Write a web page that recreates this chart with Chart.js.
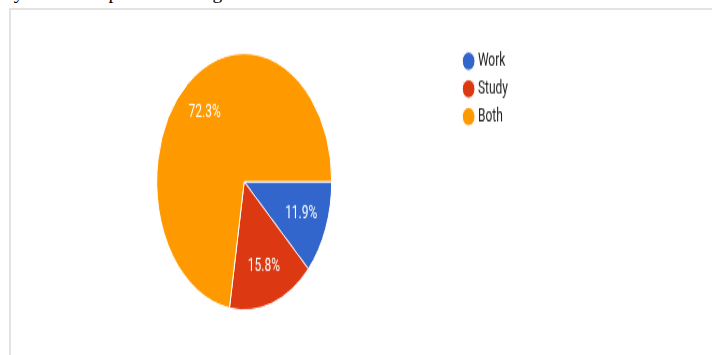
<!DOCTYPE html>
<html>
<head>
<meta charset="utf-8">
<script src="https://cdn.jsdelivr.net/npm/chart.js@4/dist/chart.umd.min.js"></script>
<style>
  html, body { margin: 0; padding: 0; background: #fff; overflow: hidden; }
  body { width: 712px; height: 355px; position: relative; }
  .doc-line {
    position: absolute; left: -22px; top: -17px; white-space: nowrap;
    font-family: "Liberation Serif", "Times New Roman", serif; font-size: 19.5px; line-height: 1; color: #000;
  }
  .frame {
    position: absolute; left: 9px; top: 8px; width: 720px; height: 360px;
    border: 2px solid #e3e3e3; box-sizing: border-box;
  }
  /* グラフ全体を縦方向に引き伸ばして描く */
  .chart-box {
    position: absolute; left: 0; top: 10px; width: 712px; height: 236px;
    transform: scaleY(1.466); transform-origin: 0 0;
  }
</style>
</head>
<body>
<div class="doc-line">Many of them replied for using</div>
<div class="frame"></div>
<div class="chart-box"><canvas id="purposeChart"></canvas></div>

<script>
// 回答データ（割合 %）
const categories = ['Work', 'Study', 'Both'];
const shares = [11.9, 15.8, 72.3];
const sliceColors = ['#3366cc', '#dc3912', '#ff9900'];

const FONT_FAMILY = 'Roboto, Arial, sans-serif';
const LEGEND_FONT = 12;
const LEGEND_BOX_W = 6.5;
const LEGEND_BOX_H = 9;
const LEGEND_PAD = 6.9;
const LEGEND_X = 465.4;   // 凡例アイテムの左端
const PIE_CENTER_X = 244.2;

// 凡例の幅を測ってレイアウトの余白を決める
const measureCtx = document.createElement('canvas').getContext('2d');
measureCtx.font = `${LEGEND_FONT}px ${FONT_FAMILY}`;
const maxText = Math.max(...categories.map(c => measureCtx.measureText(c).width));
const maxItem = LEGEND_BOX_W + LEGEND_FONT / 2 + maxText;
const padRight = 712 - LEGEND_X - maxItem - 10;
const legendLeft = LEGEND_X - LEGEND_PAD;
const padLeft = 2 * PIE_CENTER_X - legendLeft;

// スライスの中に割合を白文字で書くプラグイン
const sliceLabels = {
    id: 'sliceLabels',
    afterDatasetsDraw(chart) {
        const ctx = chart.ctx;
        const meta = chart.getDatasetMeta(0);
        ctx.save();
        ctx.fillStyle = '#ffffff';
        ctx.font = `12px ${FONT_FAMILY}`;
        ctx.textAlign = 'center';
        ctx.textBaseline = 'middle';
        meta.data.forEach((arc, i) => {
            const mid = (arc.startAngle + arc.endAngle) / 2;
            const r = arc.outerRadius * 0.7;
            const x = arc.x + Math.cos(mid) * r;
            const y = arc.y + Math.sin(mid) * r;
            ctx.fillText(shares[i].toFixed(1) + '%', x, y);
        });
        ctx.restore();
    }
};

const ctx = document.getElementById('purposeChart').getContext('2d');
new Chart(ctx, {
    type: 'pie',
    data: {
        labels: categories,
        datasets: [{
            data: shares,
            backgroundColor: sliceColors,
            borderColor: '#ffffff',
            borderWidth: 1,
            hoverOffset: 0,
            radius: 87.5
        }]
    },
    options: {
        responsive: true,
        maintainAspectRatio: false,
        devicePixelRatio: 1,
        animation: false,
        events: [],
        rotation: 90,
        layout: {
            padding: { left: padLeft, right: padRight, top: 22, bottom: 23.8 }
        },
        plugins: {
            tooltip: { enabled: false },
            legend: {
                position: 'right',
                align: 'start',
                labels: {
                    usePointStyle: true,
                    pointStyle: 'circle',
                    boxWidth: LEGEND_BOX_W,
                    boxHeight: LEGEND_BOX_H,
                    padding: LEGEND_PAD,
                    color: '#222222',
                    font: { size: LEGEND_FONT, family: FONT_FAMILY }
                }
            }
        }
    },
    plugins: [sliceLabels]
});
</script>
</body>
</html>
